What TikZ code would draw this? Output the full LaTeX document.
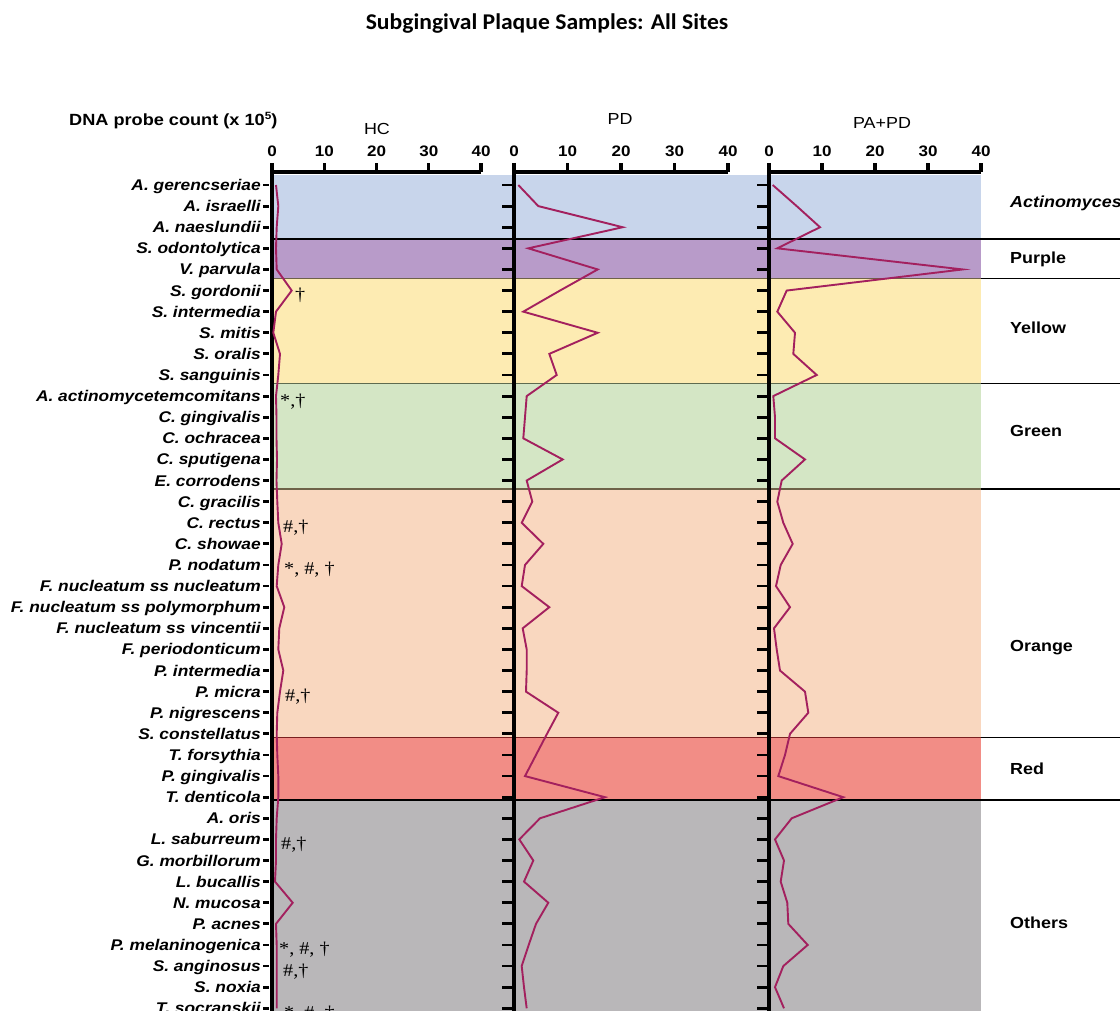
\documentclass[tikz,border=0pt]{standalone}
\usepackage{fontspec}
\setmainfont{Liberation Sans}
\newfontfamily\arialx[FakeStretch=1.12]{Liberation Sans}
\newfontfamily\timesx[FakeStretch=1.12]{Liberation Serif}
\newfontfamily\calx[FakeStretch=1.05]{Carlito}
\definecolor{bandAct}{HTML}{C8D5EB}
\definecolor{bandPur}{HTML}{B89BC9}
\definecolor{bandYel}{HTML}{FDEBB2}
\definecolor{bandGrn}{HTML}{D4E6C5}
\definecolor{bandOra}{HTML}{F9D7BF}
\definecolor{bandRed}{HTML}{F28D86}
\definecolor{bandOth}{HTML}{B9B7B9}
\definecolor{dataC}{HTML}{A3205E}
\definecolor{lineYel}{HTML}{6E6248}
\definecolor{lineGrn}{HTML}{5E6B50}
\definecolor{lineRed}{HTML}{7A2020}
\tikzset{
  axisw/.style={line width=3.2pt, black},
  tickw/.style={line width=2.8pt, black},
  dataline/.style={line width=1.9pt, dataC, line join=miter},
  splab/.style={font=\arialx\bfseries\itshape\fontsize{15.5}{17}\selectfont, inner sep=0pt, anchor=base east},
  grplab/.style={font=\arialx\bfseries\fontsize{16}{18}\selectfont, inner sep=0pt, anchor=base west},
  numlab/.style={font=\arialx\bfseries\fontsize{15.2}{17}\selectfont, inner sep=0pt, anchor=base},
  panlab/.style={font=\arialx\fontsize{16}{18}\selectfont, inner sep=0pt, anchor=base},
  annot/.style={font=\timesx\fontsize{18}{20}\selectfont, inner sep=0pt, anchor=base west},
  sepin/.style={line width=1.2pt},
  sepout/.style={line width=1.4pt, black}
}
\begin{document}
\begin{tikzpicture}[x=1pt, y=-1pt]
\useasboundingbox (0,0) rectangle (1120,1011);
\clip (0,0) rectangle (1120,1011);
\fill[white] (0,0) rectangle (1120,1011);
% bands
\fill[bandAct] (272,175.5) rectangle (981,239);
\fill[bandPur] (272,239) rectangle (981,278.3);
\fill[bandYel] (272,278.3) rectangle (981,383.7);
\fill[bandGrn] (272,383.7) rectangle (981,489);
\fill[bandOra] (272,489) rectangle (981,737.7);
\fill[bandRed] (272,737.7) rectangle (981,800);
\fill[bandOth] (272,800) rectangle (981,1011);
% separators
\draw[sepout] (272,239) -- (1120,239);
\draw[sepin, lineYel] (272,278.3) -- (981,278.3);
\draw[sepin, lineGrn] (272,383.7) -- (981,383.7);
\draw[sepin, lineYel] (272,489) -- (981,489);
\draw[sepin, lineRed] (272,737.7) -- (981,737.7);
\draw[sepout] (272,800) -- (1120,800);
\foreach \yy in {278.3,383.7,489,737.7} \draw[sepout] (981,\yy) -- (1120,\yy);
% title and headers
\node[font=\calx\bfseries\fontsize{22.5}{26}\selectfont, inner sep=0pt, anchor=base] (title) at (547,30) {Subgingival Plaque Samples: All Sites};
\node[font=\arialx\bfseries\fontsize{16.2}{18}\selectfont, inner sep=0pt, anchor=base west] (ylab) at (69,126) {DNA probe count (x 10\raisebox{0.42em}{\fontsize{10.5}{11}\selectfont 5})};
\node[panlab] (hc) at (377,135) {HC};
\node[panlab] (pd) at (620,125) {PD};
\node[panlab] (papd) at (882,129) {PA+PD};
% axes
\foreach \xo/\st/\nm in {272/52.25/h, 514/53.5/p, 769/53/q}{
  \draw[axisw] (\xo,172) -- ({\xo+4*\st},172);
  \draw[axisw] (\xo,163) -- (\xo,1011);
  \foreach \k/\lab in {0/0,1/10,2/20,3/30,4/40}{
    \draw[axisw] ({\xo+\k*\st},172) -- ({\xo+\k*\st},163);
    \node[numlab] (n\nm\k) at ({\xo+\k*\st},157) {\lab};
  }
}
% row ticks
\foreach \i in {1,...,40}{
  \pgfmathsetmacro{\yy}{185+21.11*(\i-1)}
  \draw[tickw] (263,\yy) -- (269,\yy);
  \draw[tickw] (502,\yy) -- (514,\yy);
  \draw[tickw] (757,\yy) -- (769,\yy);
}
% species labels
\foreach \n [count=\i] in {A. gerencseriae, A. israelli, A. naeslundii, S. odontolytica, V. parvula, S. gordonii, S. intermedia, S. mitis, S. oralis, S. sanguinis, A. actinomycetemcomitans, C. gingivalis, C. ochracea, C. sputigena, E. corrodens, C. gracilis, C. rectus, C. showae, P. nodatum, F. nucleatum ss nucleatum, F. nucleatum ss polymorphum, F. nucleatum ss vincentii, F. periodonticum, P. intermedia, P. micra, P. nigrescens, S. constellatus, T. forsythia, P. gingivalis, T. denticola, A. oris, L. saburreum, G. morbillorum, L. bucallis, N. mucosa, P. acnes, P. melaninogenica, S. anginosus, S. noxia, T. socranskii}{
  \node[splab] (sp\i) at (261,{185+21.11*(\i-1)+5.5}) {\n};
}
% data lines
\draw[dataline] (276,185) \foreach \v [count=\i] in {276,278.3,276.7,276,276.7,291.7,276,273.3,280,278.3,276,276.5,276.5,277,276.5,277.3,278.3,281.7,278.3,276.7,284.3,279.3,278.3,283.3,280,277.3,276.7,277.3,278.3,278.3,276.7,276,276,275,292.7,276,276.7,276.7,276.7,276.7}{ -- (\v,{185+21.11*(\i-1)}) };
\draw[dataline] (518.3,185) \foreach \v [count=\i] in {518.3,538.3,622.7,528.3,597.7,560,523.3,597.7,549.3,556.7,526.7,525,523.3,562.7,526.7,532.3,521.7,543.3,525,521.7,549.3,522.7,526.7,526.7,526,558.3,547,536,525,605,540,519.3,533.3,524,548.3,536,528.7,521.7,524,526.7}{ -- (\v,{185+21.11*(\i-1)}) };
\draw[dataline] (772.7,185) \foreach \v [count=\i] in {772.7,796.7,820,777.3,962.7,786.7,777.3,795,793.3,816.7,773.3,775,775,805,781.7,777.3,783.3,792.7,780.7,776,790,774,776.7,780,805,808.3,790,785,778.3,843.3,791.7,775,784,780.7,787.3,788.3,807.7,783.3,775,784}{ -- (\v,{185+21.11*(\i-1)}) };
% annotations
\foreach \r/\xx/\txt [count=\j] in {6/295/{†}, 11/280/{*,†}, 17/283/{\#,†}, 19/284/{*, \#, †}, 25/285/{\#,†}, 32/281/{\#,†}, 37/279/{*, \#, †}, 38/283/{\#,†}, 40/284/{*, \#, †}}{
  \node[annot] (an\j) at (\xx,{185+21.11*(\r-1)+10}) {\txt};
}
% group labels
\node[grplab, font=\arialx\bfseries\itshape\fontsize{16}{18}\selectfont] (gAct) at (1010,208) {Actinomyces};
\node[grplab] (gPur) at (1010,264) {Purple};
\node[grplab] (gYel) at (1010,334) {Yellow};
\node[grplab] (gGrn) at (1010,436) {Green};
\node[grplab] (gOra) at (1010,651) {Orange};
\node[grplab] (gRed) at (1010,774) {Red};
\node[grplab] (gOth) at (1010,928) {Others};
\end{tikzpicture}
\end{document}
